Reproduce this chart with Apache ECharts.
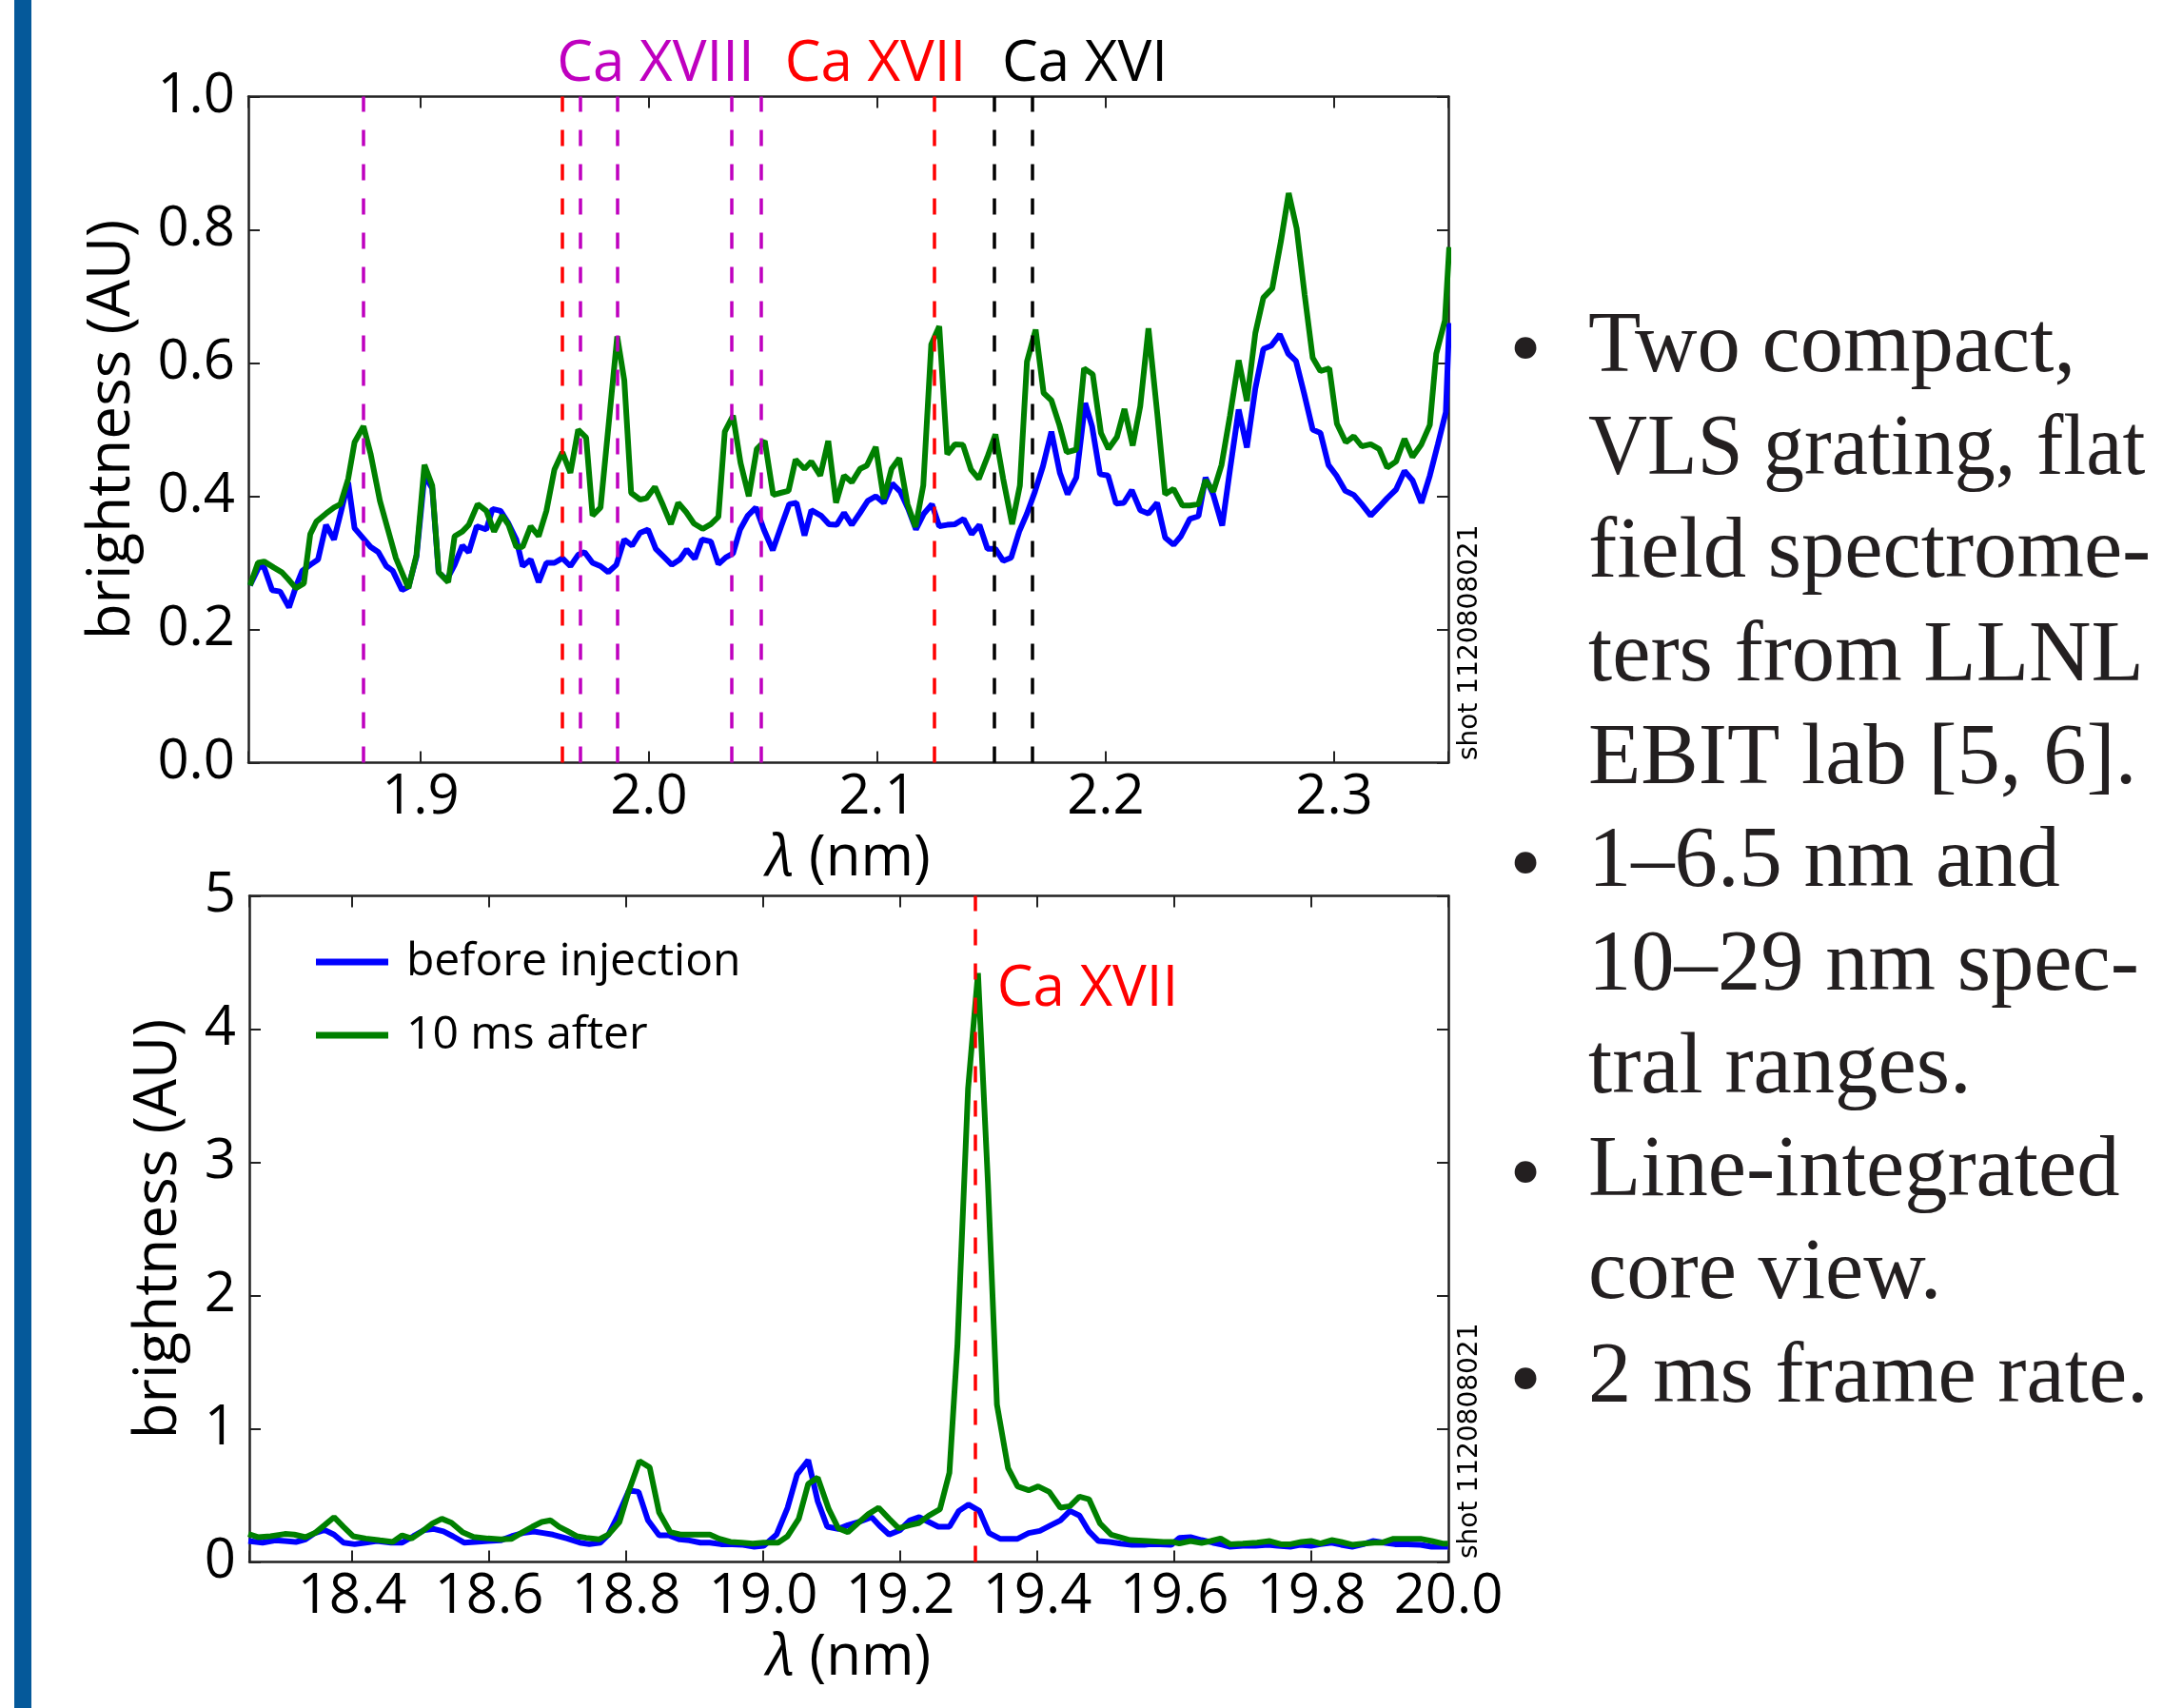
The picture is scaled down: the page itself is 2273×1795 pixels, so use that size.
<!DOCTYPE html>
<html>
<head>
<meta charset="utf-8">
<title>Ca spectra</title>
<script src="https://cdn.jsdelivr.net/npm/echarts@6/dist/echarts.min.js"></script>
<style>
html, body { margin: 0; padding: 0; background: #fff; }
#main { width: 2273px; height: 1795px; }
</style>
</head>
<body>
<div id="main"></div>
<script>
// top panel, 1.82 - 2.35 nm
var topLamBefore = [1.8253,1.8294,1.8315,1.835,1.8385,1.8424,1.8454,1.8482,1.8517,1.8551,1.8586,1.8621,1.8656,1.8683,1.8711,1.8746,1.8781,1.8815,1.885,1.8878,
	1.8919,1.8947,1.8982,1.9017,1.9051,1.9079,1.9114,1.9149,1.9183,1.9211,1.9246,1.9288,1.9315,1.935,1.9385,1.9419,1.9447,1.9482,1.9517,1.9551,
	1.9586,1.9621,1.9656,1.969,1.9718,1.9753,1.9788,1.9822,1.9857,1.9892,1.9926,1.9961,1.9996,2.003,2.0065,2.01,2.0135,2.0165,2.0201,2.0232,
	2.0271,2.0304,2.0336,2.0368,2.0399,2.0433,2.0468,2.0503,2.0542,2.0579,2.0614,2.0646,2.0681,2.0711,2.0753,2.0788,2.0822,2.0854,2.0888,2.0924,
	2.0958,2.0993,2.1028,2.1065,2.11,2.1135,2.1169,2.1204,2.1239,2.1271,2.1306,2.134,2.1378,2.1413,2.1447,2.1482,2.1517,2.1551,2.1586,2.1621,
	2.1655,2.169,2.1725,2.1762,2.1799,2.1833,2.1871,2.191,2.194,2.1975,2.201,2.2045,2.2079,2.2114,2.2151,2.2187,2.2225,2.226,2.2297,2.2329,
	2.2368,2.2406,2.2437,2.2471,2.251,2.2544,2.2582,2.2618,2.2655,2.269,2.2725,2.2762,2.2799,2.2833,2.2868,2.2906,2.294,2.2975,2.301,2.3049,
	2.3086,2.3121,2.316,2.3197,2.3232,2.3271,2.3308,2.3343,2.3382,2.3419,2.3454,2.3489,2.3504];
var topBefore = [0.266,0.295,0.293,0.259,0.257,0.233,0.264,0.288,0.297,0.305,0.357,0.335,0.383,0.421,0.352,0.338,0.324,0.316,0.295,0.288,
	0.259,0.264,0.309,0.431,0.412,0.286,0.274,0.297,0.326,0.316,0.355,0.35,0.381,0.378,0.359,0.335,0.295,0.305,0.271,0.3,
	0.3,0.307,0.295,0.312,0.316,0.3,0.295,0.286,0.297,0.335,0.326,0.345,0.35,0.321,0.309,0.297,0.305,0.32,0.306,0.335,
	0.332,0.298,0.308,0.314,0.35,0.371,0.383,0.35,0.319,0.355,0.388,0.39,0.341,0.379,0.371,0.358,0.357,0.375,0.357,0.375,
	0.393,0.4,0.39,0.419,0.407,0.381,0.35,0.374,0.388,0.355,0.357,0.358,0.366,0.343,0.357,0.321,0.321,0.303,0.308,0.347,
	0.374,0.407,0.445,0.497,0.435,0.403,0.428,0.54,0.505,0.433,0.431,0.389,0.39,0.409,0.379,0.374,0.39,0.338,0.327,0.34,
	0.366,0.37,0.428,0.402,0.356,0.44,0.53,0.473,0.562,0.621,0.626,0.643,0.614,0.603,0.555,0.5,0.495,0.447,0.431,0.408,
	0.402,0.388,0.371,0.384,0.397,0.41,0.438,0.424,0.39,0.431,0.478,0.526,0.66];
var topLamAfter = [1.8253,1.8288,1.8315,1.8357,1.8392,1.8419,1.8454,1.8489,1.8517,1.8544,1.8586,1.8621,1.8649,1.8683,1.8711,1.875,1.8781,1.8822,1.8857,1.8892,
	1.8947,1.8982,1.9017,1.9051,1.9079,1.9121,1.9149,1.9183,1.9211,1.925,1.9288,1.9322,1.9357,1.9385,1.9419,1.9447,1.9482,1.9517,1.9551,1.9586,
	1.9621,1.9656,1.969,1.9725,1.9753,1.9788,1.9861,1.9892,1.9922,1.9961,1.9989,2.0026,2.0062,2.0096,2.0128,2.0163,2.0197,2.0235,2.0271,2.0304,
	2.0332,2.0368,2.0401,2.0437,2.0472,2.0507,2.0544,2.0576,2.0611,2.0642,2.0681,2.0711,2.075,2.0785,2.0819,2.0854,2.0888,2.0924,2.0954,2.0993,
	2.1028,2.1062,2.1096,2.1132,2.1167,2.1201,2.1236,2.1271,2.1306,2.134,2.1375,2.141,2.1444,2.1482,2.1517,2.1551,2.159,2.1624,2.1655,2.1693,
	2.1728,2.1762,2.1797,2.1829,2.1871,2.1905,2.1943,2.1979,2.2012,2.2049,2.2082,2.2118,2.2151,2.2187,2.2225,2.226,2.2297,2.2336,2.2368,2.2406,
	2.2437,2.2471,2.2507,2.2544,2.2582,2.2618,2.2655,2.269,2.2729,2.2767,2.2801,2.2836,2.2871,2.2906,2.294,2.2979,2.3012,2.3051,2.3086,2.3121,
	2.316,2.3197,2.3232,2.3271,2.3308,2.3343,2.3382,2.3419,2.3447,2.3485,2.3504];
var topAfter = [0.266,0.3,0.302,0.293,0.286,0.276,0.262,0.269,0.343,0.362,0.374,0.383,0.388,0.426,0.481,0.505,0.464,0.393,0.35,0.307,
	0.262,0.312,0.447,0.416,0.286,0.271,0.34,0.347,0.357,0.388,0.378,0.347,0.371,0.357,0.324,0.324,0.355,0.34,0.378,0.44,
	0.466,0.435,0.5,0.488,0.371,0.383,0.64,0.574,0.405,0.395,0.397,0.414,0.386,0.358,0.39,0.376,0.359,0.351,0.358,0.369,
	0.497,0.521,0.45,0.4,0.471,0.483,0.402,0.405,0.408,0.455,0.441,0.452,0.431,0.483,0.39,0.431,0.421,0.441,0.446,0.474,
	0.396,0.441,0.457,0.388,0.354,0.416,0.628,0.655,0.463,0.478,0.477,0.44,0.426,0.459,0.493,0.426,0.358,0.416,0.602,0.65,
	0.555,0.544,0.507,0.466,0.47,0.592,0.583,0.495,0.471,0.489,0.531,0.476,0.535,0.652,0.526,0.403,0.411,0.386,0.386,0.388,
	0.424,0.407,0.447,0.521,0.604,0.543,0.645,0.698,0.712,0.783,0.855,0.802,0.702,0.608,0.588,0.592,0.509,0.481,0.49,0.475,
	0.478,0.471,0.443,0.452,0.486,0.459,0.478,0.507,0.614,0.664,0.774];

// bottom panel, 18.25 - 20.0 nm
var botLamBefore = [18.2486,18.2694,18.288,18.3019,18.3181,18.332,18.3458,18.3597,18.3736,18.3875,18.4037,18.4199,18.4361,18.4569,18.4731,18.4894,18.5056,18.5194,18.5333,18.5472,
	18.5634,18.5796,18.5981,18.6167,18.6329,18.6491,18.6653,18.6792,18.6931,18.7139,18.7324,18.7463,18.7625,18.7741,18.788,18.8042,18.8181,18.8319,18.8481,18.862,
	18.8782,18.8921,18.9083,18.9222,18.9384,18.9546,18.9708,18.987,19.0009,19.0194,19.0356,19.0495,19.0657,19.0796,19.0935,19.1097,19.1236,19.1398,19.1583,19.1699,
	19.1838,19.2,19.2139,19.2278,19.2417,19.2556,19.2718,19.2856,19.2995,19.3157,19.3296,19.3458,19.3713,19.3875,19.4037,19.4199,19.4338,19.4477,19.4616,19.4755,
	19.4894,19.5056,19.5218,19.538,19.5565,19.5657,19.5796,19.5958,19.6074,19.6236,19.6398,19.656,19.6699,19.6815,19.7,19.7185,19.737,19.7509,19.7694,19.7833,
	19.7995,19.8134,19.8296,19.8435,19.8597,19.8759,19.8898,19.906,19.9222,19.9407,19.9593,19.9755,19.9995];
var botBefore = [0.157,0.145,0.162,0.157,0.15,0.169,0.217,0.24,0.205,0.145,0.133,0.145,0.157,0.145,0.145,0.193,0.24,0.248,0.229,0.193,
	0.145,0.15,0.157,0.162,0.193,0.217,0.229,0.217,0.205,0.176,0.145,0.133,0.145,0.205,0.348,0.538,0.526,0.312,0.2,0.2,
	0.169,0.162,0.145,0.145,0.133,0.133,0.129,0.114,0.121,0.205,0.407,0.657,0.764,0.455,0.264,0.248,0.276,0.3,0.336,0.271,
	0.205,0.24,0.312,0.336,0.3,0.264,0.264,0.383,0.431,0.383,0.217,0.174,0.174,0.217,0.233,0.276,0.312,0.383,0.348,0.229,
	0.157,0.15,0.138,0.129,0.129,0.133,0.133,0.129,0.181,0.186,0.164,0.145,0.129,0.114,0.121,0.121,0.129,0.121,0.114,0.129,
	0.121,0.133,0.145,0.129,0.114,0.133,0.157,0.145,0.133,0.133,0.129,0.114,0.114];
var botLamAfter = [18.2486,18.2625,18.281,18.3019,18.3157,18.332,18.3458,18.3597,18.3736,18.3875,18.4014,18.4199,18.4407,18.4593,18.4731,18.487,18.5032,18.5171,18.531,18.5449,
	18.5611,18.5773,18.5981,18.6167,18.6329,18.6491,18.663,18.6769,18.6898,18.7023,18.7139,18.7278,18.7417,18.7602,18.7741,18.7903,18.8042,18.8194,18.8343,18.8481,
	18.8644,18.8806,18.8991,18.9222,18.9361,18.9523,18.9685,18.9847,19.0009,19.0218,19.0356,19.0519,19.0657,19.0796,19.0958,19.1097,19.1236,19.1375,19.1537,19.1685,
	19.1838,19.1977,19.2139,19.2278,19.2417,19.2579,19.2718,19.2835,19.299,19.3135,19.328,19.3412,19.3574,19.3713,19.3875,19.4014,19.4176,19.4338,19.4477,19.4616,
	19.4755,19.4917,19.5079,19.5356,19.5611,19.5843,19.5981,19.6074,19.6236,19.6398,19.6537,19.6676,19.6815,19.7,19.7208,19.7394,19.7556,19.7694,19.7856,19.7995,
	19.8134,19.8296,19.8435,19.8597,19.8759,19.8921,19.9037,19.9199,19.9407,19.9593,19.9755,19.9917,19.9995];
var botAfter = [0.21,0.186,0.193,0.21,0.205,0.186,0.217,0.276,0.336,0.264,0.193,0.176,0.162,0.15,0.2,0.176,0.233,0.288,0.324,0.295,
	0.224,0.188,0.176,0.169,0.174,0.224,0.264,0.3,0.312,0.264,0.233,0.193,0.181,0.169,0.205,0.3,0.538,0.757,0.71,0.371,
	0.224,0.205,0.205,0.205,0.174,0.15,0.145,0.138,0.145,0.145,0.193,0.324,0.586,0.633,0.395,0.252,0.224,0.288,0.36,0.407,
	0.324,0.252,0.276,0.293,0.348,0.395,0.669,1.63,3.55,4.42,2.85,1.18,0.705,0.567,0.538,0.567,0.526,0.407,0.419,0.49,
	0.471,0.288,0.205,0.164,0.157,0.15,0.15,0.138,0.157,0.143,0.157,0.176,0.133,0.138,0.145,0.157,0.133,0.133,0.15,0.157,
	0.138,0.164,0.15,0.129,0.138,0.145,0.145,0.174,0.174,0.174,0.157,0.138,0.138];

// identified lines (nm)
var linesXVIII = [1.875, 1.970, 1.986, 2.036, 2.049];
var linesXVII = [1.962, 2.125];
var linesXVI = [2.151, 2.168];
var botLinesXVII = [19.31];

var FONT = "'Open Sans', 'Noto Sans', sans-serif";
var SERIF = "'Liberation Serif', 'DejaVu Serif', serif";
var BLUE = '#0000ff', GREEN = '#008000', MAG = '#bf00bf', RED = '#ff0000', INK = '#222';

function pairs(xs, ys){
	var out = [];
	for (var i = 0; i < xs.length; i++) out.push([xs[i], ys[i]]);
	return out;
}

function vlines(list, color){
	return list.map(function(v){
		return {xAxis: v, lineStyle: {color: color, type: [17, 19], width: 3.5}};
	});
}

// only label the round ticks, not the axis ends
function tenths(v){
	var t = Math.round(v * 10);
	return Math.abs(v * 10 - t) < 1e-6 ? (t / 10).toFixed(1) : '';
}

function xAx(grid, pos, min, max, split, showLabel){
	return {
		type: 'value', gridIndex: grid, position: pos, min: min, max: max, splitNumber: split,
		axisLine: {show: true, onZero: false, lineStyle: {color: INK, width: 2.5}},
		axisTick: {show: true, inside: true, length: 12, lineStyle: {color: INK, width: 2}},
		axisLabel: {show: showLabel, formatter: tenths, fontSize: 58, fontFamily: FONT, color: '#000', margin: 8},
		splitLine: {show: false},
		name: showLabel ? '{i|λ} (nm)' : '',
		nameLocation: 'middle', nameGap: 71,
		nameTextStyle: {fontSize: 60, fontFamily: FONT, color: '#000',
			rich: {i: {fontSize: 60, fontFamily: FONT, fontStyle: 'italic', color: '#000'}}}
	};
}

function yAx(grid, pos, max, interval, fmt, gap){
	return {
		type: 'value', gridIndex: grid, position: pos, min: 0, max: max, interval: interval,
		axisLine: {show: true, onZero: false, lineStyle: {color: INK, width: 2.5}},
		axisTick: {show: true, inside: true, length: 12, lineStyle: {color: INK, width: 2}},
		axisLabel: {show: !!fmt, formatter: fmt, fontSize: 58, fontFamily: FONT, color: '#000', margin: 14},
		splitLine: {show: false},
		name: fmt ? 'brightness (AU)' : '',
		nameLocation: 'middle', nameGap: gap,
		nameTextStyle: {fontSize: 62, fontFamily: FONT, color: '#000'}
	};
}

function lineSeries(name, color, xi, yi, data){
	return {
		name: name, type: 'line', xAxisIndex: xi, yAxisIndex: yi, data: data,
		symbol: 'none', showSymbol: false, clip: true,
		lineStyle: {color: color, width: 6}, itemStyle: {color: color}
	};
}

var bodyLines = ['Two compact,', 'VLS grating, flat', 'field spectrome-', 'ters from LLNL', 'EBIT lab [5, 6].',
	'1–6.5 nm and', '10–29 nm spec-', 'tral ranges.', 'Line-integrated', 'core view.', '2 ms frame rate.'];
var bulletRows = [0, 5, 8, 10];

function e_chart(){
	var myChart = echarts.init(document.getElementById('main'), null, {renderer: 'canvas'});

	var topB = lineSeries('before injection', BLUE, 0, 0, pairs(topLamBefore, topBefore));
	topB.markLine = {
		silent: true, symbol: ['none', 'none'], label: {show: false}, animation: false, precision: 4,
		data: vlines(linesXVIII, MAG).concat(vlines(linesXVII, RED), vlines(linesXVI, '#000'))
	};
	var topA = lineSeries('10 ms after', GREEN, 0, 0, pairs(topLamAfter, topAfter));

	var botB = lineSeries('before injection', BLUE, 2, 2, pairs(botLamBefore, botBefore));
	botB.markLine = {
		silent: true, symbol: ['none', 'none'], label: {show: false}, animation: false, precision: 4,
		data: vlines(botLinesXVII, RED)
	};
	var botA = lineSeries('10 ms after', GREEN, 2, 2, pairs(botLamAfter, botAfter));
	botA.markPoint = {
		silent: true, symbol: 'circle', symbolSize: 1, itemStyle: {color: 'rgba(0,0,0,0)'},
		label: {show: true, position: 'right', distance: 22, formatter: 'Ca XVII', color: RED, fontSize: 60, fontFamily: FONT},
		data: [{coord: [botLinesXVII[0], 4.3]}]
	};

	var graphics = [
		{type: 'rect', shape: {x: 15, y: 0, width: 18, height: 1795}, style: {fill: '#05599a'}, silent: true},
		{type: 'text', x: 689, y: 68, style: {text: 'Ca XVIII', fill: MAG, fontSize: 60, fontFamily: FONT, align: 'center', verticalAlign: 'middle', textAlign: 'center', textVerticalAlign: 'middle'}},
		{type: 'text', x: 920, y: 68, style: {text: 'Ca XVII', fill: RED, fontSize: 60, fontFamily: FONT, align: 'center', verticalAlign: 'middle', textAlign: 'center', textVerticalAlign: 'middle'}},
		{type: 'text', x: 1140, y: 68, style: {text: 'Ca XVI', fill: '#000', fontSize: 60, fontFamily: FONT, align: 'center', verticalAlign: 'middle', textAlign: 'center', textVerticalAlign: 'middle'}},
		{type: 'text', x: 1545, y: 799, rotation: Math.PI / 2, style: {text: 'shot 1120808021', fill: '#000', fontSize: 28, fontFamily: "'DejaVu Sans', sans-serif", align: 'left', verticalAlign: 'middle', textAlign: 'left', textVerticalAlign: 'middle'}},
		{type: 'text', x: 1545, y: 1638, rotation: Math.PI / 2, style: {text: 'shot 1120808021', fill: '#000', fontSize: 28, fontFamily: "'DejaVu Sans', sans-serif", align: 'left', verticalAlign: 'middle', textAlign: 'left', textVerticalAlign: 'middle'}}
	];
	// bullet list on the right
	for (var i = 0; i < bodyLines.length; i++){
		var yMid = 365.6 + i * 108.3;
		graphics.push({type: 'text', x: 1669, y: yMid, scaleX: i === 1 ? 0.935 : 0.985,
			style: {text: bodyLines[i], fill: '#231f20', fontSize: 92, fontFamily: SERIF, align: 'left', verticalAlign: 'middle', textAlign: 'left', textVerticalAlign: 'middle'}});
		if (bulletRows.indexOf(i) >= 0){
			graphics.push({type: 'text', x: 1603, y: yMid + 6, style: {text: '•', fill: '#231f20', fontSize: 96, fontFamily: SERIF, align: 'center', verticalAlign: 'middle', textAlign: 'center', textVerticalAlign: 'middle'}});
		}
	}

	var option = {
		animation: false,
		backgroundColor: '#fff',
		grid: [
			{left: 261, top: 101.5, width: 1261, height: 700, outerBoundsMode: 'none'},
			{left: 262, top: 941.5, width: 1260, height: 700, outerBoundsMode: 'none'}
		],
		xAxis: [
			xAx(0, 'bottom', 1.8246, 2.35, 5, true),
			xAx(0, 'top', 1.8246, 2.35, 5, false),
			xAx(1, 'bottom', 18.25, 20.0, 8, true),
			xAx(1, 'top', 18.25, 20.0, 8, false)
		],
		yAxis: [
			yAx(0, 'left', 1, 0.2, function(v){ return v.toFixed(1); }, 112),
			yAx(0, 'right', 1, 0.2, null, 0),
			yAx(1, 'left', 5, 1, function(v){ return String(v); }, 64),
			yAx(1, 'right', 5, 1, null, 0)
		],
		legend: {
			data: ['before injection', '10 ms after'], orient: 'vertical', left: 332, top: 983,
			icon: 'rect', itemWidth: 76, itemHeight: 7, itemGap: 21, padding: 0, selectedMode: false,
			textStyle: {fontSize: 48, fontFamily: FONT, color: '#000', lineHeight: 56, padding: [0, 0, 0, 14]}
		},
		graphic: graphics,
		series: [topB, topA, botB, botA]
	};

	myChart.setOption(option);
}

e_chart();
</script>
</body>
</html>
